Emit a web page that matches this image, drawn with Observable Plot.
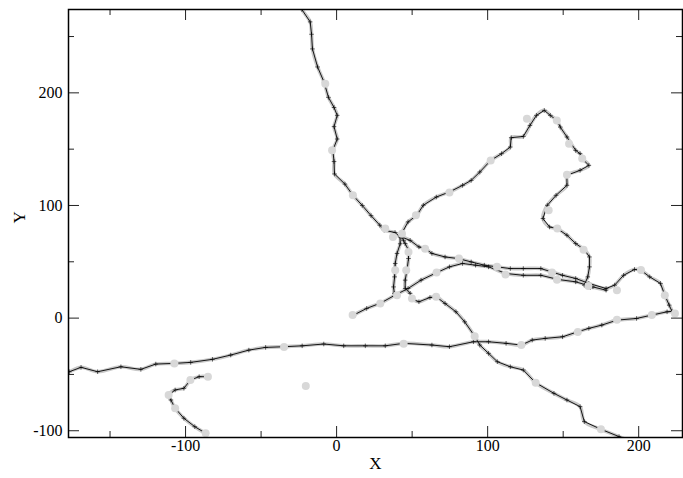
<!DOCTYPE html>
<html><head><meta charset="utf-8">
<script src="https://cdn.jsdelivr.net/npm/d3@7"></script>
<script src="https://cdn.jsdelivr.net/npm/@observablehq/plot@0.6"></script>
<style>html,body{margin:0;padding:0;background:#fff}#chart svg{display:block}</style>
</head><body><div id="chart"></div>
<script>
// Track segments (x, y)
const segTop = [[-25,281],[-23,274],[-17.5,263],[-16.6,252],[-16,239],[-12.6,223],[-8.3,209.5],[-5.4,196],[-1.7,187],[0.4,180],[-1.7,170],[0.4,159],[-2.5,149],[-1.7,139],[-1.4,128],[5.5,119],[10.8,109],[17,100],[22.8,91],[28.6,82.5],[31.5,78],[38.7,76],[42,72],[42.1,66],[40,57.4],[38.8,48.5],[38.4,36.6],[37.7,27.7],[38.2,22],[40,20]];
const segMain = [[48.7,22],[45.4,26.3],[45.4,33.7],[46.6,42.6],[47.6,52.9],[47.6,60.3],[45.4,66.2],[44.3,69],[43,72],[48.7,69],[54.5,63.2],[58.8,61.8],[63.1,57.4],[71.8,54.3],[80.4,52.9],[89.1,49.9],[97.8,47],[106.4,45.5],[115,44],[123.6,44],[135.2,44],[142.4,41],[149.6,38],[158.3,35.2],[167,30.8],[178.4,26.3],[184.1,29.3],[190,38],[197.2,43.2],[201.5,42.5],[207.3,36.6],[214.4,30.8],[217.3,20.4],[220.2,11.5],[222,6],[218.8,5.6],[208.7,2.7],[198.6,-0.3],[185.6,-1.8],[175.6,-6.2],[167,-9.1],[159.7,-12.1],[149.6,-16.6],[138.1,-18],[129.5,-19.5],[122.3,-23.9],[112.2,-22.4],[100.6,-21],[90.6,-21],[74.7,-25.4],[63.1,-23.9],[44.4,-22.4],[32.2,-24.6],[19,-24.6],[4.7,-24.6],[-8.5,-23],[-22.8,-24.6],[-34.9,-25.4],[-47,-26],[-58.1,-28.4],[-70.1,-32.8],[-82.2,-36.6],[-96.6,-39.3],[-107.6,-40.2],[-119.7,-40.8],[-129.6,-45.5],[-142.8,-43.2],[-158.2,-47.6],[-169.2,-43.7],[-177,-47.6],[-182,-50]];
const segLower = [[11.3,2.7],[19.9,8.6],[29.5,13.6],[38.7,20.4],[47.3,26.3],[55.9,33.7],[66,40.2],[74.7,45.5],[83.4,48.5],[92,47],[100.6,45.5],[112.2,39.6],[123.6,38],[135.2,38],[146.7,34.3],[158.3,32.2],[169.7,27.7],[178.4,24.8]];
const segLoop = [[43,75],[47.3,85.4],[53.1,91.3],[57.4,100.2],[66,107.5],[74.7,112],[83.4,117.9],[89.1,122.3],[94.8,129.7],[102,140],[109.2,146],[115,151.9],[115.6,160.2],[123.6,161.3],[128,171.1],[132.3,180],[137.5,184.4],[141.5,180],[145.8,175.5],[148.1,169.6],[152.5,160.8],[158.3,148.9],[161.2,146],[162.6,141.6],[167,135.6],[161.2,131.2],[152.5,126.8],[152.5,117.9],[145.3,109],[139.5,100.2],[136.6,88.4],[141,80.9],[146.1,79.5],[152.5,73.6],[158.3,66.2],[164,60.9],[167.4,54.3],[167.4,45.5],[166.3,36.6],[164,29.3],[168,27]];
const segDiag = [[50.3,16.8],[54.5,14.5],[61.8,18.3],[66,18.9],[71.8,13],[79,5.6],[84.8,-3.3],[91.4,-16],[94.8,-23.9],[100.6,-31.3],[106.4,-38.7],[115,-43.2],[123.6,-46.1],[131.8,-57.4],[143.9,-66.8],[152.5,-72.7],[161.2,-78.6],[164,-91.9],[175,-98.7],[187,-105.2],[192,-108]];
const segHook = [[-85.2,-52],[-91,-52],[-96.8,-55],[-101.1,-62.3],[-106.9,-63.8],[-111.2,-68.3],[-109.7,-72.7],[-106.9,-80],[-101.1,-88.9],[-93.9,-96.4],[-86.7,-102.2]];

// Observation points (grey dots)
const obsX = [-7.5,-3,10.8,32.2,37.3,43.3,47.6,38.8,46.1,40,28.9,10.6,49.9,65.9,52.5,74.7,58.6,66.2,81,106.2,111.8,142.6,145.9,163.5,166.7,185.6,201.5,217.3,224,208.7,185.6,159.7,122.3,91.4,44.4,-34.8,-107.4,131.8,175,-20.4,-85.2,-96.8,-111.2,-106.9,-86.7,126,145.8,153.9,162.6,152.5,140.4,146.1,102];
const obsY = [208,149,109,79.5,72,75,58.8,42.6,42.6,20.4,13,2.7,17.5,18.9,91.3,111.5,61.5,40.5,52.9,45.5,38.8,40.5,34,60.6,28.5,24.8,42.8,20.4,4.2,2.7,-1.5,-12.4,-23.9,-16,-22.7,-25.7,-40.2,-57.4,-98.7,-60.3,-52,-55,-68.3,-80,-102.2,177,175.5,154.9,141.6,127.3,95.7,79.5,140];

const xMajor = [-100, 0, 100, 200];
const xMinor = [-150, -50, 50, 150];
const yMajor = [-100, 0, 100, 200];
const yMinor = [-50, 50, 150, 250];
const xDomain = [-177.5, 229];
const yDomain = [-106, 274];

const segments = {top: segTop, main: segMain, lower: segLower, loop: segLoop, diag: segDiag, hook: segHook};
const rows = Object.entries(segments).flatMap(([k, pts]) => pts.map(([x, y]) => ({seg: k, x, y})));
const obs = obsX.map((x, i) => ({x, y: obsY[i]}));

const W = 683, H = 478, mL = 68, mR = 1, mT = 9, mB = 41;
const innerW = W - mL - mR, innerH = H - mT - mB;
const fmt = d => String(d);
const tickCol = "#222";

const chart = Plot.plot({
  width: W, height: H,
  marginLeft: mL, marginRight: mR, marginTop: mT, marginBottom: mB,
  x: {domain: xDomain},
  y: {domain: yDomain},
  style: {fontFamily: "'Liberation Serif', 'Times New Roman', serif", fontSize: "16px", background: "#fff", color: "#000"},
  marks: [
    Plot.line(rows, {x: "x", y: "y", z: "seg", stroke: "#c9c9c9", strokeWidth: 3.6, curve: "catmull-rom", clip: true}),
    Plot.line(rows, {x: "x", y: "y", z: "seg", stroke: "#000", strokeWidth: 0.9, clip: true}),
    Plot.dot(rows, {x: "x", y: "y", symbol: "plus", r: 1.6, stroke: "#000", strokeWidth: 0.6, clip: true}),
    Plot.dot(obs, {x: "x", y: "y", r: 4, fill: "#d8d8d8", clip: true}),
    Plot.tickX(xMajor, {x: d => d, insetTop: innerH - 11, stroke: tickCol, strokeWidth: 1}),
    Plot.tickX(xMajor, {x: d => d, insetBottom: innerH - 11, stroke: tickCol, strokeWidth: 1}),
    Plot.tickX(xMinor, {x: d => d, insetTop: innerH - 6, stroke: tickCol, strokeWidth: 1}),
    Plot.tickX(xMinor, {x: d => d, insetBottom: innerH - 6, stroke: tickCol, strokeWidth: 1}),
    Plot.tickY(yMajor, {y: d => d, insetRight: innerW - 11, stroke: tickCol, strokeWidth: 1}),
    Plot.tickY(yMajor, {y: d => d, insetLeft: innerW - 11, stroke: tickCol, strokeWidth: 1}),
    Plot.tickY(yMinor, {y: d => d, insetRight: innerW - 6, stroke: tickCol, strokeWidth: 1}),
    Plot.tickY(yMinor, {y: d => d, insetLeft: innerW - 6, stroke: tickCol, strokeWidth: 1}),
    Plot.frame({stroke: "#000", strokeWidth: 1.5}),
    Plot.axisX({anchor: "bottom", ticks: xMajor, tickSize: 0, tickPadding: 2, tickFormat: fmt, label: null, fontSize: 16}),
    Plot.axisY({anchor: "left", ticks: yMajor, tickSize: 0, tickPadding: 6, tickFormat: fmt, label: null, fontSize: 16}),
    Plot.text(["X"], {text: d => d, frameAnchor: "bottom", dy: 31, fontSize: 17}),
    Plot.text(["Y"], {text: d => d, frameAnchor: "left", dx: -49, rotate: -90, fontSize: 17})
  ]
});
document.getElementById("chart").appendChild(chart);
</script>
</body></html>
